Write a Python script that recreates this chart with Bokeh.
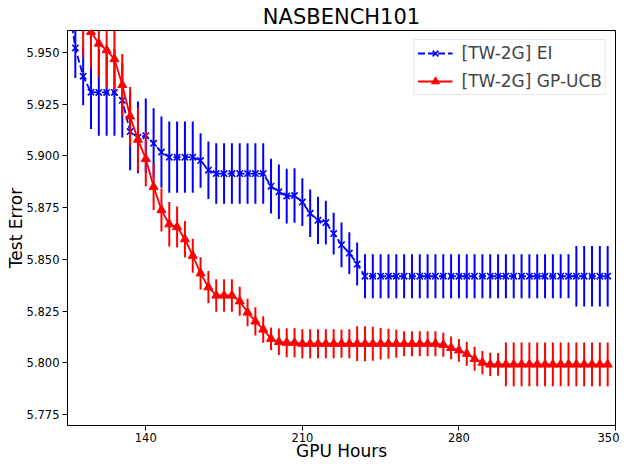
import numpy as np
from bokeh.plotting import figure
from bokeh.models import Range1d, FixedTicker, PrintfTickFormatter, Legend, LegendItem
from bokeh.embed import file_html
from bokeh.resources import INLINE

# ---------------- data ----------------
gpu_hours = [105.0, 108.5, 112.0, 115.5, 119.0, 122.5, 126.0, 129.5, 133.0, 136.5,
             140.0, 143.5, 147.0, 150.5, 154.0, 157.5, 161.0, 164.5, 168.0, 171.5,
             175.0, 178.5, 182.0, 185.5, 189.0, 192.5, 196.0, 199.5, 203.0, 206.5,
             210.0, 213.5, 217.0, 220.5, 224.0, 227.5, 231.0, 234.5, 238.0, 241.5,
             245.0, 248.5, 252.0, 255.5, 259.0, 262.5, 266.0, 269.5, 273.0, 276.5,
             280.0, 283.5, 287.0, 290.5, 294.0, 297.5, 301.0, 304.5, 308.0, 311.5,
             315.0, 318.5, 322.0, 325.5, 329.0, 332.5, 336.0, 339.5, 343.0, 346.5]

ei_mean = [5.9770, 5.9522, 5.9385, 5.9308, 5.9307, 5.9307, 5.9307, 5.9269, 5.9118, 5.9090,
           5.9098, 5.9061, 5.9019, 5.8994, 5.8994, 5.8994, 5.8994, 5.8978, 5.8931, 5.8915,
           5.8915, 5.8915, 5.8915, 5.8915, 5.8915, 5.8915, 5.8854, 5.8827, 5.8806, 5.8809,
           5.8777, 5.8723, 5.8689, 5.8678, 5.8625, 5.8571, 5.8531, 5.8478, 5.8419, 5.8419,
           5.8419, 5.8419, 5.8419, 5.8419, 5.8419, 5.8419, 5.8419, 5.8419, 5.8419, 5.8419,
           5.8419, 5.8419, 5.8419, 5.8419, 5.8419, 5.8419, 5.8419, 5.8419, 5.8419, 5.8419,
           5.8419, 5.8419, 5.8419, 5.8419, 5.8419, 5.8419, 5.8419, 5.8419, 5.8419, 5.8419]

ei_std = [0.0150, 0.0145, 0.0140, 0.0178, 0.0210, 0.0210, 0.0210, 0.0180, 0.0187, 0.0173,
          0.0180, 0.0170, 0.0172, 0.0172, 0.0172, 0.0172, 0.0172, 0.0132, 0.0139, 0.0146,
          0.0146, 0.0146, 0.0146, 0.0146, 0.0146, 0.0146, 0.0132, 0.0132, 0.0132, 0.0132,
          0.0115, 0.0115, 0.0114, 0.0106, 0.0101, 0.0108, 0.0101, 0.0104, 0.0106, 0.0106,
          0.0106, 0.0106, 0.0106, 0.0106, 0.0106, 0.0106, 0.0106, 0.0106, 0.0106, 0.0106,
          0.0106, 0.0106, 0.0106, 0.0106, 0.0106, 0.0106, 0.0106, 0.0106, 0.0106, 0.0106,
          0.0106, 0.0106, 0.0106, 0.0106, 0.0106, 0.0146, 0.0146, 0.0146, 0.0146, 0.0146]

ucb_hours = gpu_hours[2:]

ucb_mean = [5.9645, 5.9599, 5.9543, 5.9511, 5.9468, 5.9343, 5.9191, 5.9079,
            5.8986, 5.8851, 5.8739, 5.8670, 5.8657, 5.8598, 5.8518, 5.8433, 5.8366, 5.8326,
            5.8326, 5.8326, 5.8298, 5.8244, 5.8201, 5.8162, 5.8117, 5.8102, 5.8098, 5.8098,
            5.8093, 5.8093, 5.8093, 5.8093, 5.8093, 5.8093, 5.8093, 5.8093, 5.8093, 5.8093,
            5.8093, 5.8093, 5.8093, 5.8093, 5.8093, 5.8093, 5.8093, 5.8093, 5.8088, 5.8073,
            5.8061, 5.8045, 5.8020, 5.8002, 5.7993, 5.7993, 5.7993, 5.7993, 5.7993, 5.7993,
            5.7993, 5.7993, 5.7993, 5.7993, 5.7993, 5.7993, 5.7993, 5.7993, 5.7993, 5.7993]

ucb_std = [0.0170, 0.0176, 0.0165, 0.0180, 0.0149, 0.0150, 0.0142, 0.0154,
           0.0134, 0.0112, 0.0104, 0.0107, 0.0099, 0.0088, 0.0082, 0.0078, 0.0078, 0.0078,
           0.0078, 0.0078, 0.0070, 0.0066, 0.0068, 0.0064, 0.0054, 0.0064, 0.0070, 0.0070,
           0.0070, 0.0070, 0.0070, 0.0070, 0.0070, 0.0068, 0.0070, 0.0084, 0.0085, 0.0082,
           0.0076, 0.0072, 0.0068, 0.0060, 0.0060, 0.0060, 0.0060, 0.0060, 0.0058, 0.0055,
           0.0055, 0.0058, 0.0058, 0.0056, 0.0056, 0.0055, 0.0106, 0.0106, 0.0106, 0.0106,
           0.0106, 0.0106, 0.0106, 0.0106, 0.0106, 0.0106, 0.0106, 0.0106, 0.0106, 0.0106]

x_ticks = [140, 210, 280, 350]
y_ticks = [5.775, 5.800, 5.825, 5.850, 5.875, 5.900, 5.925, 5.950]

title_text = "NASBENCH101"
x_label = "GPU Hours"
y_label = "Test Error"
ei_label = "[TW-2G] EI"
ucb_label = "[TW-2G] GP-UCB"

# ---------------- figure ----------------
FONT = "DejaVu Sans"

p = figure(width=619, height=463, output_backend="svg", toolbar_location=None,
           x_range=Range1d(105, 350), y_range=Range1d(5.7698, 5.9606),
           min_border_left=67, min_border_right=4, min_border_top=30, min_border_bottom=36)

p.title.text = title_text
p.title.align = "center"
p.title.text_font = FONT
p.title.text_font_size = "21px"
p.title.text_font_style = "normal"
p.title.text_color = "black"
p.title.standoff = 3

p.xgrid.visible = False
p.ygrid.visible = False
p.outline_line_color = "black"
p.outline_line_width = 1
p.outline_line_alpha = 1.0

for ax in (p.xaxis[0], p.yaxis[0]):
    ax.axis_line_color = "black"
    ax.major_tick_line_color = "black"
    ax.major_tick_out = 5
    ax.major_tick_in = 0
    ax.minor_tick_out = 0
    ax.minor_tick_in = 0
    ax.major_label_text_font = FONT
    ax.major_label_text_font_size = "11.5px"
    ax.major_label_text_color = "black"
    ax.axis_label_text_font = FONT
    ax.axis_label_text_font_size = "17px"
    ax.axis_label_text_font_style = "normal"
    ax.axis_label_text_color = "black"

p.xaxis.ticker = FixedTicker(ticks=x_ticks)
p.yaxis.ticker = FixedTicker(ticks=y_ticks)
p.yaxis.formatter = PrintfTickFormatter(format="%.3f")
p.xaxis.axis_label = x_label
p.yaxis.axis_label = y_label
p.xaxis.major_label_standoff = 2
p.xaxis.axis_label_standoff = -4
p.yaxis.major_label_standoff = 3
p.yaxis.axis_label_standoff = -2

BLUE = "#0000ff"
RED = "#ff0000"

ei_m = np.array(ei_mean)
ei_s = np.array(ei_std)
ucb_m = np.array(ucb_mean)
ucb_s = np.array(ucb_std)

# EI series
b_line = p.line(gpu_hours, ei_mean, line_color=BLUE, line_width=1.8, line_dash="7 3")
b_bars = p.segment(x0=gpu_hours, y0=ei_m - ei_s, x1=gpu_hours, y1=ei_m + ei_s,
                   line_color=BLUE, line_width=2)
b_mark = p.scatter(gpu_hours, ei_mean, marker="x", size=9, line_color=BLUE, line_width=1.6)
b_leg = p.scatter(x=[], y=[], marker="cross", size=16, line_color=BLUE, line_width=2)

# GP-UCB series
r_line = p.line(ucb_hours, ucb_mean, line_color=RED, line_width=1.8)
r_bars = p.segment(x0=ucb_hours, y0=ucb_m - ucb_s, x1=ucb_hours, y1=ucb_m + ucb_s,
                   line_color=RED, line_width=2)
r_mark = p.scatter(ucb_hours, ucb_mean, marker="triangle", size=9,
                   fill_color=RED, line_color=RED, line_width=1)
r_leg = p.scatter(x=[], y=[], marker="cross", size=16, line_color=RED, line_width=2)

legend = Legend(items=[
    LegendItem(label=ei_label, renderers=[b_line, b_leg, b_mark]),
    LegendItem(label=ucb_label, renderers=[r_line, r_leg, r_mark]),
])
legend.location = "top_right"
legend.margin = 9
legend.padding = 3
legend.spacing = 8
legend.glyph_width = 35
legend.glyph_height = 20
legend.label_height = 18
legend.label_standoff = 9
legend.label_text_font = FONT
legend.label_text_font_size = "17px"
legend.border_line_color = "#cccccc"
legend.border_line_width = 1
legend.background_fill_alpha = 0.8
p.add_layout(legend)

open("out.html", "w").write(file_html(p, INLINE))
